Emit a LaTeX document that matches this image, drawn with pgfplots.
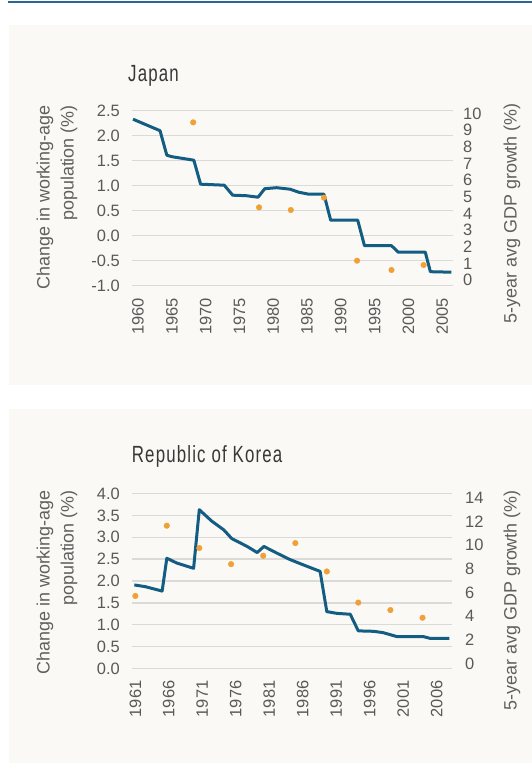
\documentclass[border=0pt]{standalone}
\usepackage{fontspec}
\setmainfont{Liberation Sans}
\newfontfamily\titlefont[FakeStretch=0.72,LetterSpace=5]{Liberation Sans}
\usepackage{pgfplots}
\pgfplotsset{compat=1.18}
\definecolor{panelbg}{HTML}{FAF9F5}
\definecolor{lineblue}{HTML}{135C82}
\definecolor{dotorange}{HTML}{F0A035}
\definecolor{gridgray}{HTML}{DADAD7}
\definecolor{ticktext}{HTML}{595959}
\definecolor{axtitle}{HTML}{606060}
\definecolor{titletext}{HTML}{383838}
\definecolor{ruleblue}{HTML}{2B6591}
\pgfplotsset{
  base/.style={scale only axis, height=175bp, major tick length=0pt,
    /pgf/number format/assume math mode=true,
    tick label style={font=\fontsize{16.5}{18}\selectfont, text=ticktext, inner sep=0pt},
    axis line style={draw=none}},
  leftax/.style={base, ymajorgrids, grid style={gridgray, line width=1.4bp},
    xticklabel style={yshift=-12bp, rotate=90, anchor=east},
    yticklabel style={anchor=east, xshift=-12bp}},
  rightax/.style={base, axis y line*=right, axis x line=none, xtick=\empty,
    y axis line style={draw=none}},
}
\begin{document}
\begin{tikzpicture}
\path[use as bounding box, fill=white] (0,0) rectangle (532bp,763bp);
\fill[panelbg] (9bp,378bp) rectangle (532bp,738bp);
\fill[panelbg] (9bp,0bp) rectangle (532bp,354bp);
\draw[ruleblue, line width=2bp] (8bp,761.3bp) -- (532bp,761.3bp);

% ---------------- Japan ----------------
\node[anchor=base west, font=\fontsize{23.5}{26}\selectfont\titlefont, text=titletext, inner sep=0pt] at (128bp,681bp) {Japan};
\node[rotate=90, anchor=east, align=right, inner sep=0pt, font=\fontsize{18}{24}\selectfont, text=axtitle] at (57bp,658bp) {Change in working-age\\population (\%)};
\node[rotate=90, anchor=east, inner sep=0pt, font=\fontsize{18}{24}\selectfont, text=axtitle] at (512bp,660bp) {5-year avg GDP growth (\%)};

\begin{axis}[leftax, at={(132bp,477.3bp)}, anchor=south west, width=321bp,
  xmin=1959.1, xmax=2006.6, ymin=-1, ymax=2.5,
  xtick={1960,1965,1970,1975,1980,1985,1990,1995,2000,2005},
  xticklabels={1960,1965,1970,1975,1980,1985,1990,1995,2000,2005},
  ytick={-1,-0.5,0,0.5,1,1.5,2,2.5},
  yticklabels={-1.0,-0.5,0.0,0.5,1.0,1.5,2.0,2.5}]
\addplot[lineblue, line width=3bp, line join=round, no marks] coordinates {
 (1959.25,2.33) (1963.25,2.10) (1964.25,1.61) (1965,1.58) (1968.25,1.51)
 (1969.25,1.03) (1972.75,1.01) (1974,0.81) (1976,0.80) (1977.75,0.77)
 (1978.75,0.94) (1980.5,0.96) (1982.5,0.93) (1983.75,0.87) (1985.25,0.83)
 (1987.5,0.83) (1988.5,0.31) (1992.5,0.31) (1993.5,-0.20) (1997.5,-0.20)
 (1998.5,-0.33) (2002.5,-0.33) (2003.25,-0.72) (2006.35,-0.73)};
\end{axis}
\begin{axis}[rightax, at={(132bp,477.3bp)}, anchor=south west, width=321bp,
  xmin=1959.1, xmax=2006.6, ymin=-0.34, ymax=10.16,
  ytick={0,1,2,3,4,5,6,7,8,9,10},
  yticklabels={0,1,2,3,4,5,6,7,8,9,10},
  yticklabel style={anchor=west, xshift=10bp}]
\addplot[only marks, mark=*, mark size=2.8bp, color=dotorange, mark options={draw=none, fill=dotorange}] coordinates {
 (1968.15,9.46) (1977.9,4.36) (1982.6,4.2) (1987.5,4.94) (1992.4,1.16) (1997.5,0.6) (2002.25,0.9)};
\end{axis}

% ---------------- Korea ----------------
\node[anchor=base west, font=\fontsize{23.5}{26}\selectfont\titlefont, text=titletext, inner sep=0pt] at (131.7bp,300bp) {Republic of Korea};
\node[rotate=90, anchor=east, align=right, inner sep=0pt, font=\fontsize{18}{24}\selectfont, text=axtitle] at (57bp,273bp) {Change in working-age\\population (\%)};
\node[rotate=90, anchor=east, inner sep=0pt, font=\fontsize{18}{24}\selectfont, text=axtitle] at (512bp,273bp) {5-year avg GDP growth (\%)};

\begin{axis}[leftax, at={(132bp,94.5bp)}, anchor=south west, width=320bp,
  xmin=1960.5, xmax=2008.3, ymin=0, ymax=4,
  xtick={1961,1966,1971,1976,1981,1986,1991,1996,2001,2006},
  xticklabels={1961,1966,1971,1976,1981,1986,1991,1996,2001,2006},
  ytick={0,0.5,1,1.5,2,2.5,3,3.5,4},
  yticklabels={0.0,0.5,1.0,1.5,2.0,2.5,3.0,3.5,4.0}]
\addplot[lineblue, line width=3bp, line join=round, no marks] coordinates {
 (1960.85,1.91) (1962.5,1.87) (1965.0,1.77) (1965.7,2.52) (1967.2,2.41)
 (1969.7,2.29) (1970.55,3.63) (1972.4,3.37) (1974.2,3.17) (1975.4,2.97)
 (1977.7,2.79) (1979.2,2.65) (1980.2,2.79) (1982.1,2.64) (1984.1,2.49)
 (1986.4,2.35) (1988.6,2.22) (1989.6,1.30) (1991.1,1.26) (1993.1,1.24)
 (1994.3,0.86) (1996.6,0.85) (1998.0,0.82) (2000.05,0.73) (2004.0,0.73)
 (2005.0,0.69) (2007.9,0.69)};
\end{axis}
\begin{axis}[rightax, at={(132bp,94.5bp)}, anchor=south west, width=320bp,
  xmin=1960.5, xmax=2008.3, ymin=-0.42, ymax=14.37,
  ytick={0,2,4,6,8,10,12,14},
  yticklabels={0,2,4,6,8,10,12,14},
  yticklabel style={anchor=west, xshift=13bp}]
\addplot[only marks, mark=*, mark size=2.8bp, color=dotorange, mark options={draw=none, fill=dotorange}] coordinates {
 (1961.0,5.71) (1965.7,11.65) (1970.55,9.76) (1975.3,8.40) (1980.1,9.11)
 (1984.9,10.18) (1989.6,7.78) (1994.3,5.15) (1999.1,4.52) (2003.9,3.87)};
\end{axis}
\end{tikzpicture}
\end{document}
